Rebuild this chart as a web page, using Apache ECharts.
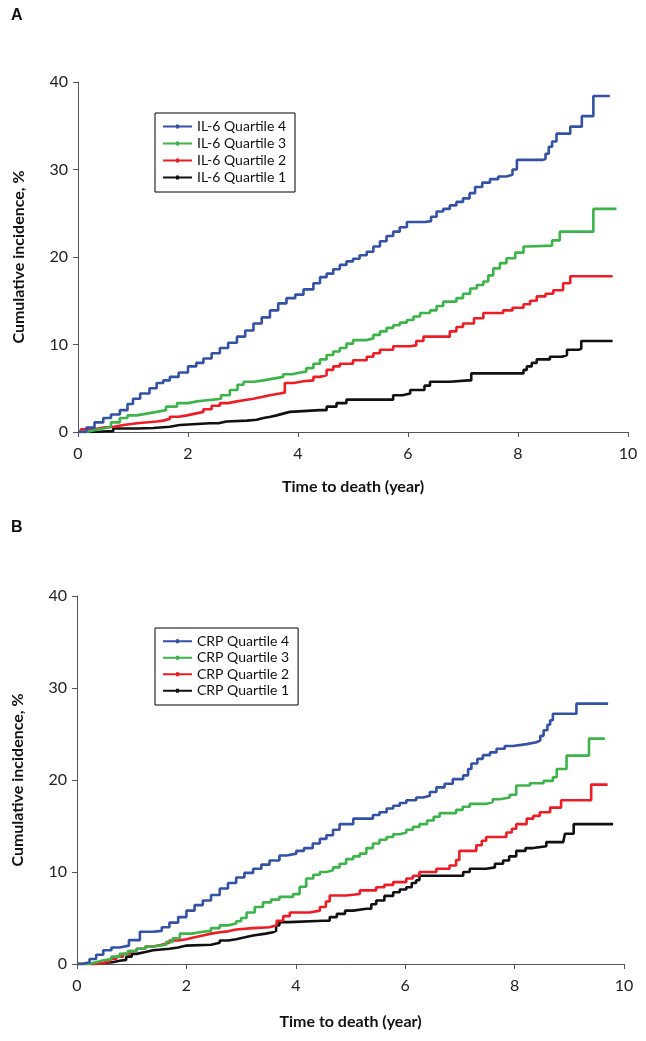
<!DOCTYPE html>
<html><head><meta charset="utf-8">
<script src="https://cdn.jsdelivr.net/npm/echarts@6/dist/echarts.min.js"></script>
<style>html,body{margin:0;padding:0;background:#fff}#c{width:646px;height:1041px}</style>
</head><body><div id="c"></div>
<script>
// ---- tick labels ----
const xTicks = [0, 2, 4, 6, 8, 10];
const yTicks = [0, 10, 20, 30, 40];
const xTitle = 'Time to death (year)';
const yTitle = 'Cumulative incidence, %';
const namesA = ['IL-6 Quartile 4', 'IL-6 Quartile 3', 'IL-6 Quartile 2', 'IL-6 Quartile 1'];
const namesB = ['CRP Quartile 4', 'CRP Quartile 3', 'CRP Quartile 2', 'CRP Quartile 1'];

// ---- Panel A: [year, cumulative incidence %] ----
const il6Q4 = [[0,0],[0.15,0.5],[0.3,1.1],[0.46,1.6],[0.6,2.0],[0.76,2.5],[0.9,3.2],[1.0,3.8],[1.13,4.4],[1.3,5.0],[1.43,5.6],[1.55,5.9],[1.67,6.3],[1.83,6.8],[2.0,7.5],[2.15,7.9],[2.28,8.4],[2.43,9.0],[2.58,9.6],[2.73,10.2],[2.89,10.9],[3.04,11.6],[3.19,12.4],[3.34,13.1],[3.49,13.9],[3.64,14.7],[3.79,15.3],[3.95,15.7],[4.1,16.3],[4.28,17.0],[4.4,17.7],[4.52,18.1],[4.64,18.6],[4.76,19.1],[4.88,19.5],[5.0,19.8],[5.12,20.2],[5.25,20.6],[5.37,21.2],[5.49,21.8],[5.61,22.4],[5.73,22.9],[5.85,23.4],[5.98,24.0],[6.31,24.1],[6.42,24.6],[6.52,25.2],[6.64,25.5],[6.76,25.9],[6.88,26.3],[7.0,26.7],[7.12,27.3],[7.22,28.0],[7.35,28.5],[7.49,28.9],[7.64,29.2],[7.79,29.4],[7.9,30.0],[7.98,31.1],[8.45,31.2],[8.5,31.8],[8.56,32.6],[8.62,33.2],[8.7,34.1],[8.95,34.9],[9.16,36.1],[9.37,38.4],[9.67,38.4]];
const il6Q3 = [[0,0],[0.15,0.2],[0.3,0.4],[0.46,0.6],[0.6,1.1],[0.76,1.6],[0.9,1.9],[1.07,2.1],[1.25,2.3],[1.43,2.5],[1.6,2.9],[1.8,3.3],[2.0,3.5],[2.16,3.6],[2.3,3.7],[2.46,3.8],[2.6,4.2],[2.76,4.8],[2.9,5.4],[3.01,5.75],[3.2,5.9],[3.37,6.1],[3.55,6.3],[3.73,6.6],[3.9,6.8],[4.04,6.9],[4.15,7.3],[4.28,7.8],[4.4,8.3],[4.52,8.8],[4.64,9.2],[4.76,9.6],[4.88,10.1],[5.0,10.5],[5.25,10.7],[5.37,11.1],[5.49,11.5],[5.61,11.9],[5.73,12.2],[5.85,12.5],[5.98,12.8],[6.1,13.2],[6.22,13.6],[6.4,13.9],[6.52,14.4],[6.64,14.9],[6.88,15.3],[7.0,15.8],[7.13,16.4],[7.25,16.8],[7.37,17.2],[7.46,17.9],[7.55,18.7],[7.67,19.3],[7.79,19.85],[7.95,20.5],[8.1,21.2],[8.16,21.3],[8.62,21.9],[8.76,22.9],[9.37,25.5],[9.79,25.5]];
const il6Q2 = [[0,0],[0.05,0.3],[0.3,0.5],[0.46,0.6],[0.65,0.8],[0.83,1.0],[1.07,1.2],[1.43,1.3],[1.55,1.5],[1.67,1.75],[1.83,1.9],[1.98,2.1],[2.13,2.3],[2.28,2.6],[2.43,3.0],[2.58,3.3],[2.73,3.5],[2.89,3.65],[3.04,3.8],[3.19,4.0],[3.34,4.2],[3.49,4.4],[3.67,4.5],[3.76,5.6],[3.92,5.8],[4.1,5.9],[4.28,6.3],[4.4,6.5],[4.52,7.1],[4.64,7.5],[4.76,7.8],[5.0,8.2],[5.25,8.6],[5.37,9.0],[5.49,9.4],[5.73,9.8],[6.04,9.9],[6.15,10.4],[6.28,10.9],[6.76,11.5],[6.88,12.0],[7.0,12.4],[7.2,13.0],[7.37,13.6],[7.73,13.9],[7.9,14.2],[8.1,14.6],[8.22,15.0],[8.34,15.5],[8.5,15.8],[8.64,16.2],[8.82,17.0],[8.95,17.8],[9.72,17.8]];
const il6Q1 = [[0,0],[0.3,0.05],[0.46,0.1],[0.64,0.4],[1.07,0.45],[1.37,0.6],[1.67,0.8],[1.85,1.0],[2.4,1.0],[2.55,1.2],[2.7,1.3],[3.07,1.4],[3.25,1.6],[3.37,1.75],[3.5,1.9],[3.61,2.1],[3.73,2.3],[3.85,2.5],[4.4,2.5],[4.52,2.9],[4.7,3.3],[4.88,3.7],[5.5,3.7],[5.73,4.2],[5.9,4.4],[6.04,4.8],[6.16,4.8],[6.3,5.3],[6.4,5.75],[6.76,5.9],[7.1,5.9],[7.15,6.7],[7.98,6.7],[8.1,7.1],[8.16,7.5],[8.25,7.9],[8.34,8.3],[8.58,8.6],[8.8,8.8],[8.89,9.4],[9.1,9.5],[9.15,10.4],[9.72,10.4]];

// ---- Panel B ----
const crpQ4 = [[0,0],[0.1,0.2],[0.23,0.55],[0.35,1.0],[0.48,1.5],[0.63,1.8],[0.78,2.0],[0.95,2.6],[1.15,3.5],[1.39,3.6],[1.55,4.0],[1.69,4.5],[1.85,5.1],[2.0,5.8],[2.15,6.4],[2.3,6.9],[2.45,7.5],[2.61,8.2],[2.76,8.8],[2.91,9.4],[3.06,9.9],[3.22,10.35],[3.37,10.8],[3.52,11.25],[3.7,11.8],[3.83,12.0],[4.01,12.3],[4.15,12.6],[4.31,13.1],[4.44,13.6],[4.56,14.0],[4.68,14.6],[4.8,15.2],[5.05,15.8],[5.29,15.8],[5.41,16.2],[5.53,16.5],[5.66,16.9],[5.78,17.2],[5.9,17.5],[6.02,17.8],[6.2,18.1],[6.33,18.3],[6.45,18.7],[6.57,19.2],[6.72,19.6],[6.87,20.1],[7.06,20.5],[7.15,21.2],[7.21,21.8],[7.32,22.3],[7.42,22.7],[7.55,23.0],[7.67,23.4],[7.82,23.7],[7.97,23.9],[8.22,24.1],[8.4,24.3],[8.47,24.8],[8.53,25.4],[8.6,26.0],[8.65,26.5],[8.7,27.2],[9.13,28.3],[9.71,28.3]];
const crpQ3 = [[0,0],[0.2,0.2],[0.35,0.4],[0.48,0.55],[0.63,0.8],[0.78,1.1],[0.93,1.4],[1.09,1.65],[1.25,1.9],[1.39,2.1],[1.63,2.4],[1.75,2.8],[1.88,3.3],[2.1,3.5],[2.3,3.6],[2.45,3.9],[2.61,4.2],[2.76,4.4],[2.91,4.65],[3.0,5.0],[3.1,5.6],[3.25,6.2],[3.4,6.7],[3.55,7.0],[3.7,7.3],[3.95,7.6],[4.07,8.4],[4.19,9.3],[4.32,9.7],[4.44,10.0],[4.56,10.2],[4.68,10.5],[4.8,10.9],[4.92,11.4],[5.05,11.7],[5.17,12.0],[5.29,12.6],[5.41,13.1],[5.53,13.5],[5.66,13.8],[5.78,14.1],[5.9,14.3],[6.02,14.6],[6.14,14.9],[6.26,15.2],[6.4,15.6],[6.52,16.0],[6.63,16.4],[6.93,16.75],[7.05,17.1],[7.18,17.4],[7.48,17.6],[7.6,17.9],[7.73,18.1],[7.91,18.4],[8.03,19.4],[8.28,19.65],[8.53,19.9],[8.7,20.3],[8.77,21.2],[8.95,22.65],[9.36,24.5],[9.65,24.5]];
const crpQ2 = [[0,0],[0.36,0.1],[0.48,0.3],[0.6,0.55],[0.72,0.8],[0.84,1.1],[0.96,1.4],[1.09,1.65],[1.25,1.9],[1.39,2.1],[1.55,2.3],[1.69,2.55],[1.85,2.7],[2.0,2.9],[2.15,3.1],[2.3,3.3],[2.45,3.45],[2.61,3.55],[2.76,3.75],[2.91,3.9],[3.22,4.0],[3.52,4.2],[3.65,4.7],[3.77,5.2],[3.89,5.6],[4.25,5.8],[4.44,6.2],[4.55,6.8],[4.62,7.45],[4.92,7.6],[5.17,8.0],[5.47,8.35],[5.62,8.6],[5.78,8.9],[6.02,9.3],[6.14,9.6],[6.26,10.0],[6.57,10.35],[6.81,10.7],[6.93,11.3],[6.99,12.3],[7.3,12.9],[7.4,13.4],[7.48,13.8],[7.85,14.3],[7.95,14.7],[8.03,15.2],[8.22,15.8],[8.34,16.1],[8.46,16.5],[8.65,17.0],[8.85,17.8],[9.4,19.5],[9.7,19.5]];
const crpQ1 = [[0,0],[0.3,0.1],[0.48,0.2],[0.65,0.35],[0.78,0.45],[0.9,0.8],[1.0,1.1],[1.09,1.3],[1.25,1.5],[1.39,1.65],[1.69,1.8],[1.85,2.0],[2.0,2.1],[2.45,2.3],[2.61,2.55],[2.76,2.7],[2.91,2.9],[3.07,3.1],[3.22,3.3],[3.45,3.45],[3.58,3.6],[3.64,4.2],[3.7,4.55],[3.88,4.7],[4.5,4.7],[4.62,5.1],[4.75,5.45],[4.9,5.8],[5.05,6.0],[5.29,6.0],[5.38,6.5],[5.47,6.9],[5.62,7.4],[5.78,7.8],[5.9,8.1],[6.02,8.35],[6.12,8.8],[6.2,9.1],[6.26,9.6],[6.96,9.6],[7.06,10.0],[7.18,10.35],[7.48,10.5],[7.64,10.9],[7.79,11.25],[7.9,11.7],[8.03,12.3],[8.2,12.6],[8.34,12.8],[8.58,13.25],[8.89,13.4],[8.92,14.15],[9.08,15.2],[9.8,15.2]];

const colors = ['#3352a6', '#3cb44a', '#ee1c25', '#111111'];
const FONT = 'Lato';
// legend icon: a short line with a small square dot in its middle
const LEG_ICON = 'path://M0,1.1H29V3.1H0Z M13,0.2H16V4H13Z';

const chart = echarts.init(document.getElementById('c'), null, {renderer: 'canvas'});

function xAx(gi) {
  return {
    gridIndex: gi, type: 'value', min: xTicks[0], max: xTicks[xTicks.length - 1], interval: xTicks[1] - xTicks[0],
    name: xTitle, nameLocation: 'middle', nameGap: gi === 0 ? 47 : 50,
    nameTextStyle: {fontFamily: FONT, fontWeight: 'bold', fontSize: 16, color: '#111'},
    axisLine: {show: true, onZero: false, lineStyle: {color: '#555', width: 1}},
    axisTick: {show: true, inside: false, length: 5, lineStyle: {color: '#555'}},
    axisLabel: {fontFamily: FONT, fontSize: 16, color: '#222', margin: 14},
    splitLine: {show: false}
  };
}
function yAx(gi) {
  return {
    gridIndex: gi, type: 'value', min: yTicks[0], max: yTicks[yTicks.length - 1], interval: yTicks[1] - yTicks[0],
    name: yTitle, nameLocation: 'middle', nameGap: 51,
    nameTextStyle: {fontFamily: FONT, fontWeight: 'bold', fontSize: 16, color: '#111'},
    axisLine: {show: true, onZero: false, lineStyle: {color: '#555', width: 1}},
    axisTick: {show: true, inside: false, length: 5, lineStyle: {color: '#555'}},
    axisLabel: {fontFamily: FONT, fontSize: 16, color: '#222', margin: 10},
    splitLine: {show: false}
  };
}
function ser(name, data, ci, gi) {
  return {
    name: name, type: 'line', step: 'end', data: data, xAxisIndex: gi, yAxisIndex: gi,
    symbol: 'circle', symbolSize: 4, showSymbol: false,
    itemStyle: {color: colors[ci]},
    lineStyle: {color: colors[ci], width: 2.6},
    z: 10 - ci
  };
}
function leg(names, top, lh) {
  return {
    data: names, orient: 'vertical', left: 155, top: top, itemWidth: 29, itemHeight: 4, itemGap: 0,
    icon: LEG_ICON,
    padding: [5, 9, 6, 8], borderColor: '#000', borderWidth: 1, backgroundColor: '#fff',
    selectedMode: false,
    textStyle: {fontFamily: FONT, fontSize: 14, color: '#111', lineHeight: lh, height: lh}
  };
}

chart.setOption({
  animation: false,
  title: [
    {text: 'A', left: 11, top: 8, padding: 0, textStyle: {fontFamily: 'Liberation Sans', fontWeight: 'bold', fontSize: 16, color: '#111'}},
    {text: 'B', left: 11, top: 520, padding: 0, textStyle: {fontFamily: 'Liberation Sans', fontWeight: 'bold', fontSize: 16, color: '#111'}}
  ],
  grid: [
    {left: 78, top: 82, width: 550, height: 350},
    {left: 77, top: 596, width: 547, height: 368}
  ],
  xAxis: [xAx(0), xAx(1)],
  yAxis: [yAx(0), yAx(1)],
  legend: [leg(namesA, 113, 17), leg(namesB, 628, 16.5)],
  series: [
    ser(namesA[0], il6Q4, 0, 0), ser(namesA[1], il6Q3, 1, 0), ser(namesA[2], il6Q2, 2, 0), ser(namesA[3], il6Q1, 3, 0),
    ser(namesB[0], crpQ4, 0, 1), ser(namesB[1], crpQ3, 1, 1), ser(namesB[2], crpQ2, 2, 1), ser(namesB[3], crpQ1, 3, 1)
  ]
});
</script></body></html>
